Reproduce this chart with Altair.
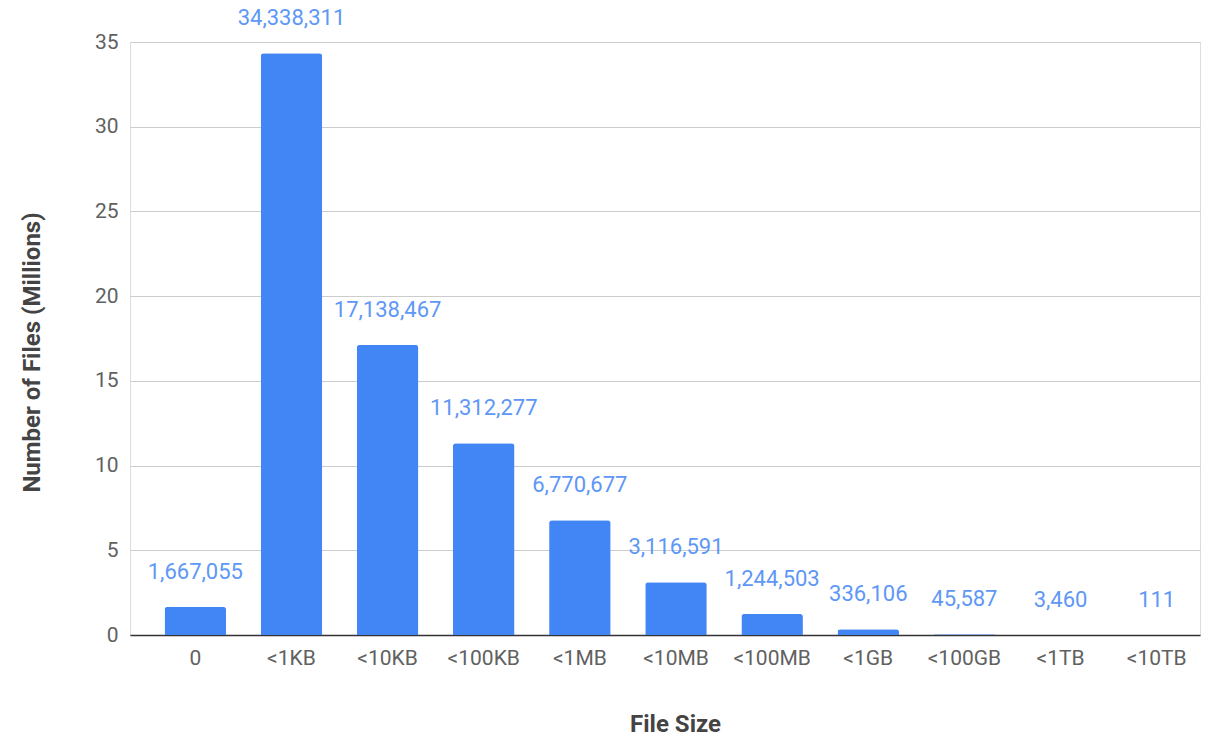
import altair as alt
import pandas as pd

# File counts per size bucket
size_buckets = ["0", "<1KB", "<10KB", "<100KB", "<1MB", "<10MB", "<100MB",
                "<1GB", "<100GB", "<1TB", "<10TB"]
file_counts = [1667055, 34338311, 17138467, 11312277, 6770677, 3116591,
               1244503, 336106, 45587, 3460, 111]

df = pd.DataFrame({"bucket": size_buckets, "count": file_counts})
df["millions"] = df["count"] / 1e6

FONT = "Roboto"
BAR_BLUE = "#4285F4"
LABEL_BLUE = "#5E97F6"
SHIFT = 11  # bars sit slightly right of the gridline start

x_enc = alt.X(
    "bucket:N",
    sort=size_buckets,
    title="File Size",
    scale=alt.Scale(paddingInner=0.36, paddingOuter=0.245),
    axis=alt.Axis(
        labelAngle=0, labelFontSize=21, labelColor="#616161", labelFont=FONT,
        labelPadding=12, labelOffset=SHIFT, ticks=False,
        domainColor="#333333", domainWidth=1.5,
        titleFont=FONT, titleFontSize=24, titleFontWeight="bold",
        titleColor="#444444", titlePadding=44, titleX=545, grid=False,
    ),
)

y_enc = alt.Y(
    "millions:Q",
    title="Number of Files (Millions)",
    scale=alt.Scale(domain=[0, 35], nice=False),
    axis=alt.Axis(
        values=[0, 5, 10, 15, 20, 25, 30, 35], labelFontSize=21,
        labelColor="#616161", labelFont=FONT, labelPadding=12, ticks=False,
        domain=False, gridColor="#cccccc", gridWidth=1,
        titleFont=FONT, titleFontSize=24, titleFontWeight="bold",
        titleColor="#444444", titlePadding=50, titleY=310,
    ),
)

bars = alt.Chart(df).mark_bar(
    color=BAR_BLUE, cornerRadiusTopLeft=3, cornerRadiusTopRight=3
).encode(x=x_enc, y=y_enc, xOffset=alt.value(SHIFT))

labels = alt.Chart(df).mark_text(
    color=LABEL_BLUE, font=FONT, fontSize=22, baseline="middle", dy=-35,
    dx=SHIFT,
).encode(
    x=alt.X("bucket:N", sort=size_buckets),
    y="millions:Q",
    text=alt.Text("count:Q", format=",d"),
)

chart = (
    alt.layer(bars, labels)
    .properties(
        width=1070, height=593,
        autosize=alt.AutoSizeParams(type="none"),
        padding={"left": 130, "top": 42, "right": 5, "bottom": 105},
    )
    .configure_view(stroke=None)
    .configure(background="white")
)

chart.save("out.html", embed_options={"renderer": "svg", "actions": False})
